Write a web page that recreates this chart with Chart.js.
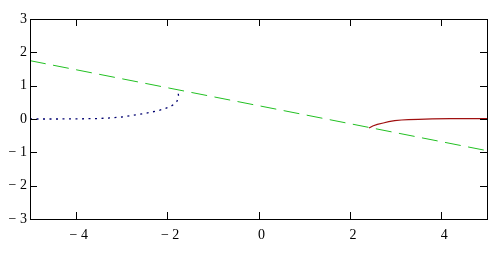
<!DOCTYPE HTML><html>
<head>
  <meta charset="utf-8">
  <script src="https://cdn.jsdelivr.net/npm/chart.js"></script>
  <style>
    html, body { margin: 0; padding: 0; background: #ffffff; }
    canvas { display: block; }
  </style>
</head>
<body>
  <canvas id="plotChart" width="501" height="257"></canvas>
<script>
  // axis ticks
  const xTicks = [-4, -2, 0, 2, 4];
  const yTicks = [-3, -2, -1, 0, 1, 2, 3];

  // green dashed line
  const lineX = [-5, 5];
  const lineY = [1.75, -0.95];

  // black dotted curve
  const dotX = [-5, -4.5, -4, -3.5, -3.2, -3.0, -2.8, -2.6, -2.4, -2.2, -2.05, -1.93, -1.85, -1.79, -1.76, -1.75, -1.76, -1.79];
  const dotY = [0, 0, 0.003, 0.015, 0.035, 0.06, 0.1, 0.14, 0.19, 0.25, 0.31, 0.37, 0.44, 0.52, 0.6, 0.7, 0.8, 0.88];

  // red curve
  const redX = [2.42, 2.5, 2.6, 2.73, 2.85, 2.98, 3.13, 3.28, 3.5, 3.8, 4.2, 4.6, 5.0];
  const redY = [-0.27, -0.21, -0.16, -0.12, -0.08, -0.05, -0.03, -0.02, -0.01, 0.005, 0.01, 0.01, 0.01];

  const serif = "'Liberation Serif', 'Times New Roman', serif";

  function toPoints(xs, ys) {
    return xs.map((x, i) => ({ x: x, y: ys[i] }));
  }

  function minusLabel(v) {
    return v < 0 ? '\u2212 ' + Math.abs(v) : '' + v;
  }

  // box round the plot and inside ticks on all four sides
  const boxPlugin = {
    id: 'boxPlugin',
    afterDraw(chart) {
      const ctx = chart.ctx;
      const a = chart.chartArea;
      const xs = chart.scales.x;
      const ys = chart.scales.y;
      const len = 7;
      ctx.save();
      ctx.strokeStyle = '#000000';
      ctx.lineWidth = 1;
      ctx.strokeRect(Math.round(a.left) + 0.5, Math.round(a.top) + 0.5,
        Math.round(a.right - a.left), Math.round(a.bottom - a.top));
      ctx.beginPath();
      xTicks.forEach((v) => {
        const px = Math.round(xs.getPixelForValue(v)) + 0.5;
        ctx.moveTo(px, a.bottom);
        ctx.lineTo(px, a.bottom - len);
        ctx.moveTo(px, a.top);
        ctx.lineTo(px, a.top + len);
      });
      yTicks.forEach((v) => {
        const py = Math.round(ys.getPixelForValue(v)) + 0.5;
        ctx.moveTo(a.left, py);
        ctx.lineTo(a.left + len, py);
        ctx.moveTo(a.right, py);
        ctx.lineTo(a.right - len, py);
      });
      ctx.stroke();
      ctx.restore();
    }
  };

  const ctx = document.getElementById('plotChart').getContext('2d');
  const plotChart = new Chart(ctx, {
    type: 'scatter',
    data: {
      datasets: [{
        data: toPoints(lineX, lineY),
        showLine: true,
        borderColor: '#22c022',
        borderWidth: 1,
        borderDash: [16, 7.5],
        pointRadius: 0
      }, {
        data: toPoints(dotX, dotY),
        showLine: true,
        borderColor: '#000070',
        borderWidth: 1.3,
        borderDash: [2, 4.5],
        tension: 0,
        pointRadius: 0
      }, {
        data: toPoints(redX, redY),
        showLine: true,
        borderColor: '#a01010',
        borderWidth: 1.2,
        pointRadius: 0
      }]
    },
    options: {
      responsive: false,
      animation: false,
      layout: { padding: { top: 19, right: 14, left: 0, bottom: 0 } },
      plugins: { legend: { display: false }, tooltip: { enabled: false } },
      scales: {
        x: {
          type: 'linear',
          min: -5,
          max: 5,
          afterBuildTicks: (scale) => { scale.ticks = xTicks.map((v) => ({ value: v })); },
          afterFit: (scale) => { scale.height = 38; },
          grid: { display: false, drawTicks: false },
          border: { display: false },
          ticks: {
            callback: minusLabel,
            padding: 8,
            labelOffset: 3,
            maxRotation: 0,
            color: '#000000',
            font: { family: serif, size: 14 }
          }
        },
        y: {
          type: 'linear',
          min: -3,
          max: 3,
          afterBuildTicks: (scale) => { scale.ticks = yTicks.map((v) => ({ value: v })); },
          afterFit: (scale) => { scale.width = 30; },
          grid: { display: false, drawTicks: false },
          border: { display: false },
          ticks: {
            callback: minusLabel,
            padding: 3,
            color: '#000000',
            font: { family: serif, size: 14 }
          }
        }
      }
    },
    plugins: [boxPlugin]
  });
</script>
</body>
</html>
